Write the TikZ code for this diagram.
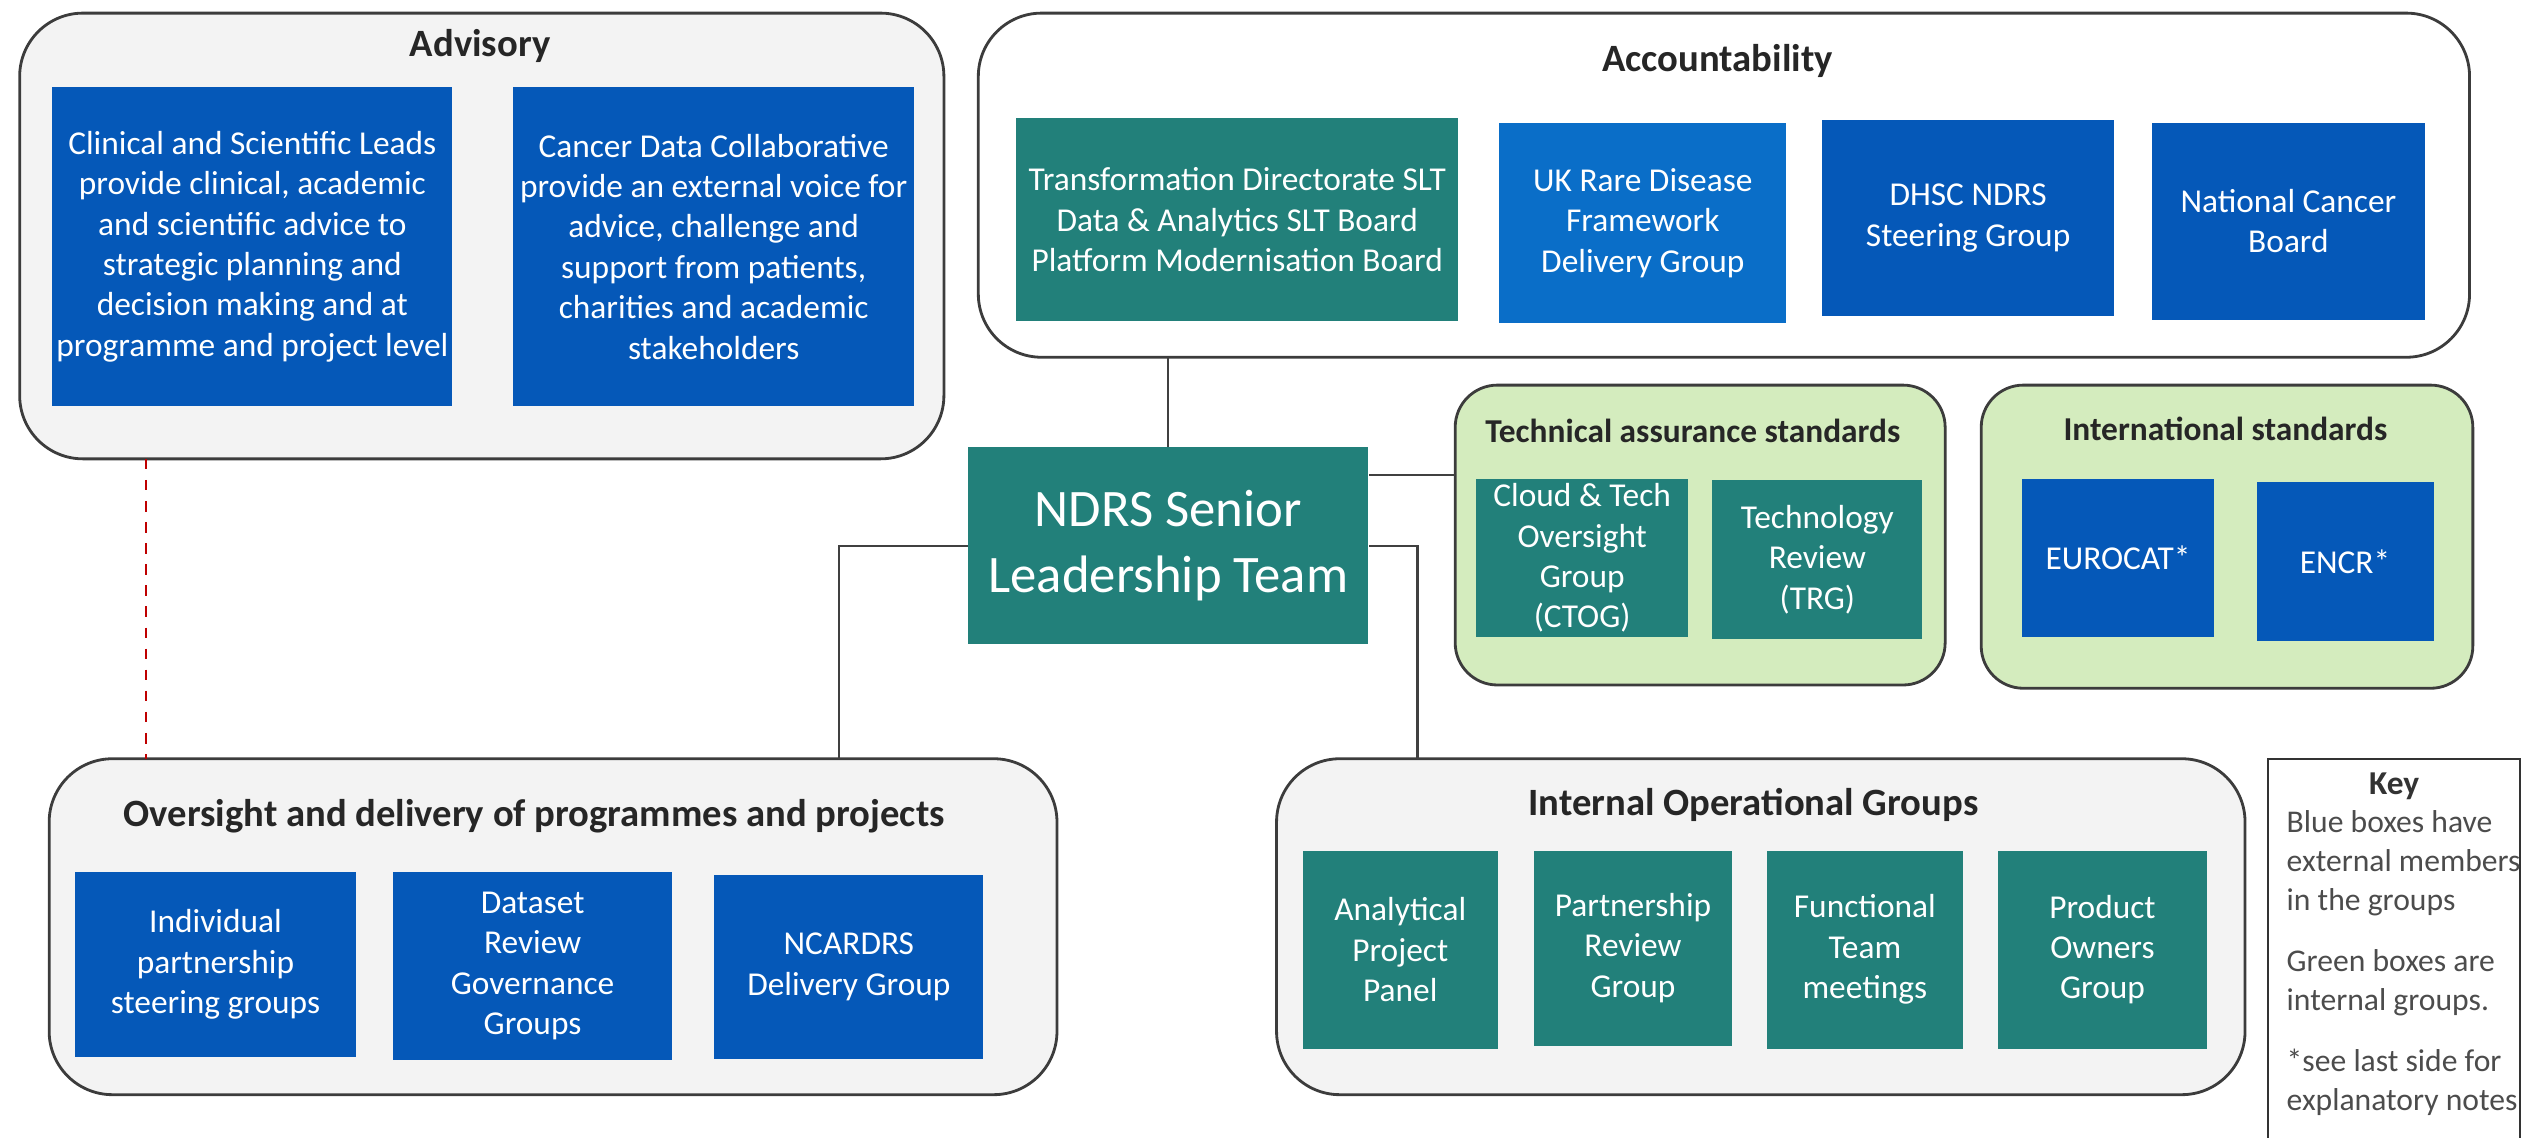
\documentclass[tikz,border=0pt]{standalone}
\usepackage{fontspec}
\setmainfont{Carlito}
\usetikzlibrary{positioning}

\definecolor{nhsblue}{RGB}{5,88,184}
\definecolor{liteblue}{RGB}{10,110,200}
\definecolor{teal}{RGB}{34,128,122}
\definecolor{greenbg}{RGB}{212,236,190}
\definecolor{greybg}{RGB}{243,243,243}
\definecolor{rimgrey}{RGB}{60,60,60}

\tikzset{
  group/.style={draw=rimgrey, line width=0.8pt, rounded corners=18pt, fill=greybg},
  stdgroup/.style={draw=rimgrey, line width=0.8pt, rounded corners=12pt, fill=greenbg},
  blue/.style={fill=nhsblue, text=white, align=center, font=\fontsize{9.5}{11.5}\selectfont, inner sep=1pt},
  tealbox/.style={blue, fill=teal},
  title/.style={font=\fontsize{11}{13}\selectfont\bfseries, text=black!85},
  link/.style={draw=black!75, line width=0.6pt}
}

% box from pixel corners: style, name, x1, y1, x2, y2, text
\newcommand\pbox[7]{%
  \node[#1, minimum width={(#5-#3)*0.016387cm}, minimum height={(#6-#4)*0.016387cm}]
    (#2) at ({(#3+#5)/2},{(#4+#6)/2}) {#7};}

\begin{document}
\begin{tikzpicture}[x=0.016387cm, y=-0.016387cm]
\useasboundingbox (0,0) rectangle (1550,694);

% Advisory
\draw[group] (12,8) rectangle (576,280);
\node[title] (advt) at (293,28) {Advisory};
\pbox{blue}{adv1}{32}{53}{276}{248}{Clinical and Scientific Leads\\provide clinical, academic\\and scientific advice to\\strategic planning and\\decision making and at\\programme and project level}
\pbox{blue}{adv2}{313}{53}{558}{248}{Cancer Data Collaborative\\provide an external voice for\\advice, challenge and\\support from patients,\\charities and academic\\stakeholders}

% Accountability
\draw[group, fill=white] (597,8) rectangle (1507,218);
\node[title] (acct) at (1048,37) {Accountability};
\pbox{tealbox}{acc1}{620}{72}{890}{196}{Transformation Directorate SLT\\Data \& Analytics SLT Board\\Platform Modernisation Board}
\pbox{blue, fill=liteblue}{acc2}{915}{75}{1090}{197}{UK Rare Disease\\Framework\\Delivery Group}
\pbox{blue}{acc3}{1112}{73}{1290}{193}{DHSC NDRS\\Steering Group}
\pbox{blue}{acc4}{1313}{75}{1480}{195}{National Cancer\\Board}

% Senior leadership team
\pbox{tealbox, font=\fontsize{15}{19}\selectfont}{slt}{591}{273}{835}{393}{NDRS Senior\\Leadership Team}

% Technical assurance standards
\draw[stdgroup] (888,235) rectangle (1187,418);
\node[title, font=\fontsize{9.5}{11}\selectfont\bfseries] (tect) at (1033,263) {Technical assurance standards};
\pbox{tealbox}{tec1}{901}{292}{1030}{389}{Cloud \& Tech\\Oversight\\Group\\(CTOG)}
\pbox{tealbox}{tec2}{1045}{293}{1173}{390}{Technology\\Review\\(TRG)}

% International standards
\draw[stdgroup] (1209,235) rectangle (1509,420);
\node[title, font=\fontsize{9.5}{11}\selectfont\bfseries] (intt) at (1358,262) {International standards};
\pbox{blue}{int1}{1234}{292}{1351}{389}{EUROCAT*}
\pbox{blue}{int2}{1377}{294}{1485}{391}{ENCR*}

% Oversight and delivery
\draw[group] (30,463) rectangle (645,668);
\node[title] (ovst) at (326,498) {Oversight and delivery of programmes and projects};
\pbox{blue}{ovs1}{46}{532}{217}{645}{Individual\\partnership\\steering groups}
\pbox{blue}{ovs2}{240}{532}{410}{647}{Dataset\\Review\\Governance\\Groups}
\pbox{blue}{ovs3}{436}{534}{600}{646}{NCARDRS\\Delivery Group}

% Internal operational groups
\draw[group] (779,463) rectangle (1370,668);
\node[title] (iogt) at (1070,491) {Internal Operational Groups};
\pbox{tealbox}{iog1}{795}{519}{914}{640}{Analytical\\Project\\Panel}
\pbox{tealbox}{iog2}{936}{519}{1057}{638}{Partnership\\Review\\Group}
\pbox{tealbox}{iog3}{1078}{519}{1198}{640}{Functional\\Team\\meetings}
\pbox{tealbox}{iog4}{1219}{519}{1347}{640}{Product\\Owners\\Group}

% Key
\draw[draw=black!80, line width=0.6pt] (1384,463) rectangle (1538,695);
\node[font=\fontsize{9.5}{11}\selectfont\bfseries, text=black!80] (keyt) at (1461,480) {Key};
\node[anchor=north west, align=left, text=black!70, inner sep=0pt,
      font=\fontsize{9}{11.2}\selectfont] (keytx) at (1395,494)
  {Blue boxes have\\external members\\in the groups\\[6pt]Green boxes are\\internal groups.\\[6pt]*see last side for\\explanatory notes};

% Connectors
\coordinate (accin) at (713,218);
\coordinate (tecin) at (888,290);
\coordinate (ovsin) at (512,463);
\coordinate (iogin) at (865,463);
\coordinate (advout) at (89,280);
\coordinate (ovsdash) at (89,463);
\draw[link] (accin) -- (accin |- slt.north);
\draw[link] (slt.east |- tecin) -- (tecin);
\draw[link] (slt.west) -| (ovsin);
\draw[link] (slt.east) -| (iogin);
\draw[red!75!black, dashed, line width=0.6pt] (advout) -- (ovsdash);
\end{tikzpicture}
\end{document}
